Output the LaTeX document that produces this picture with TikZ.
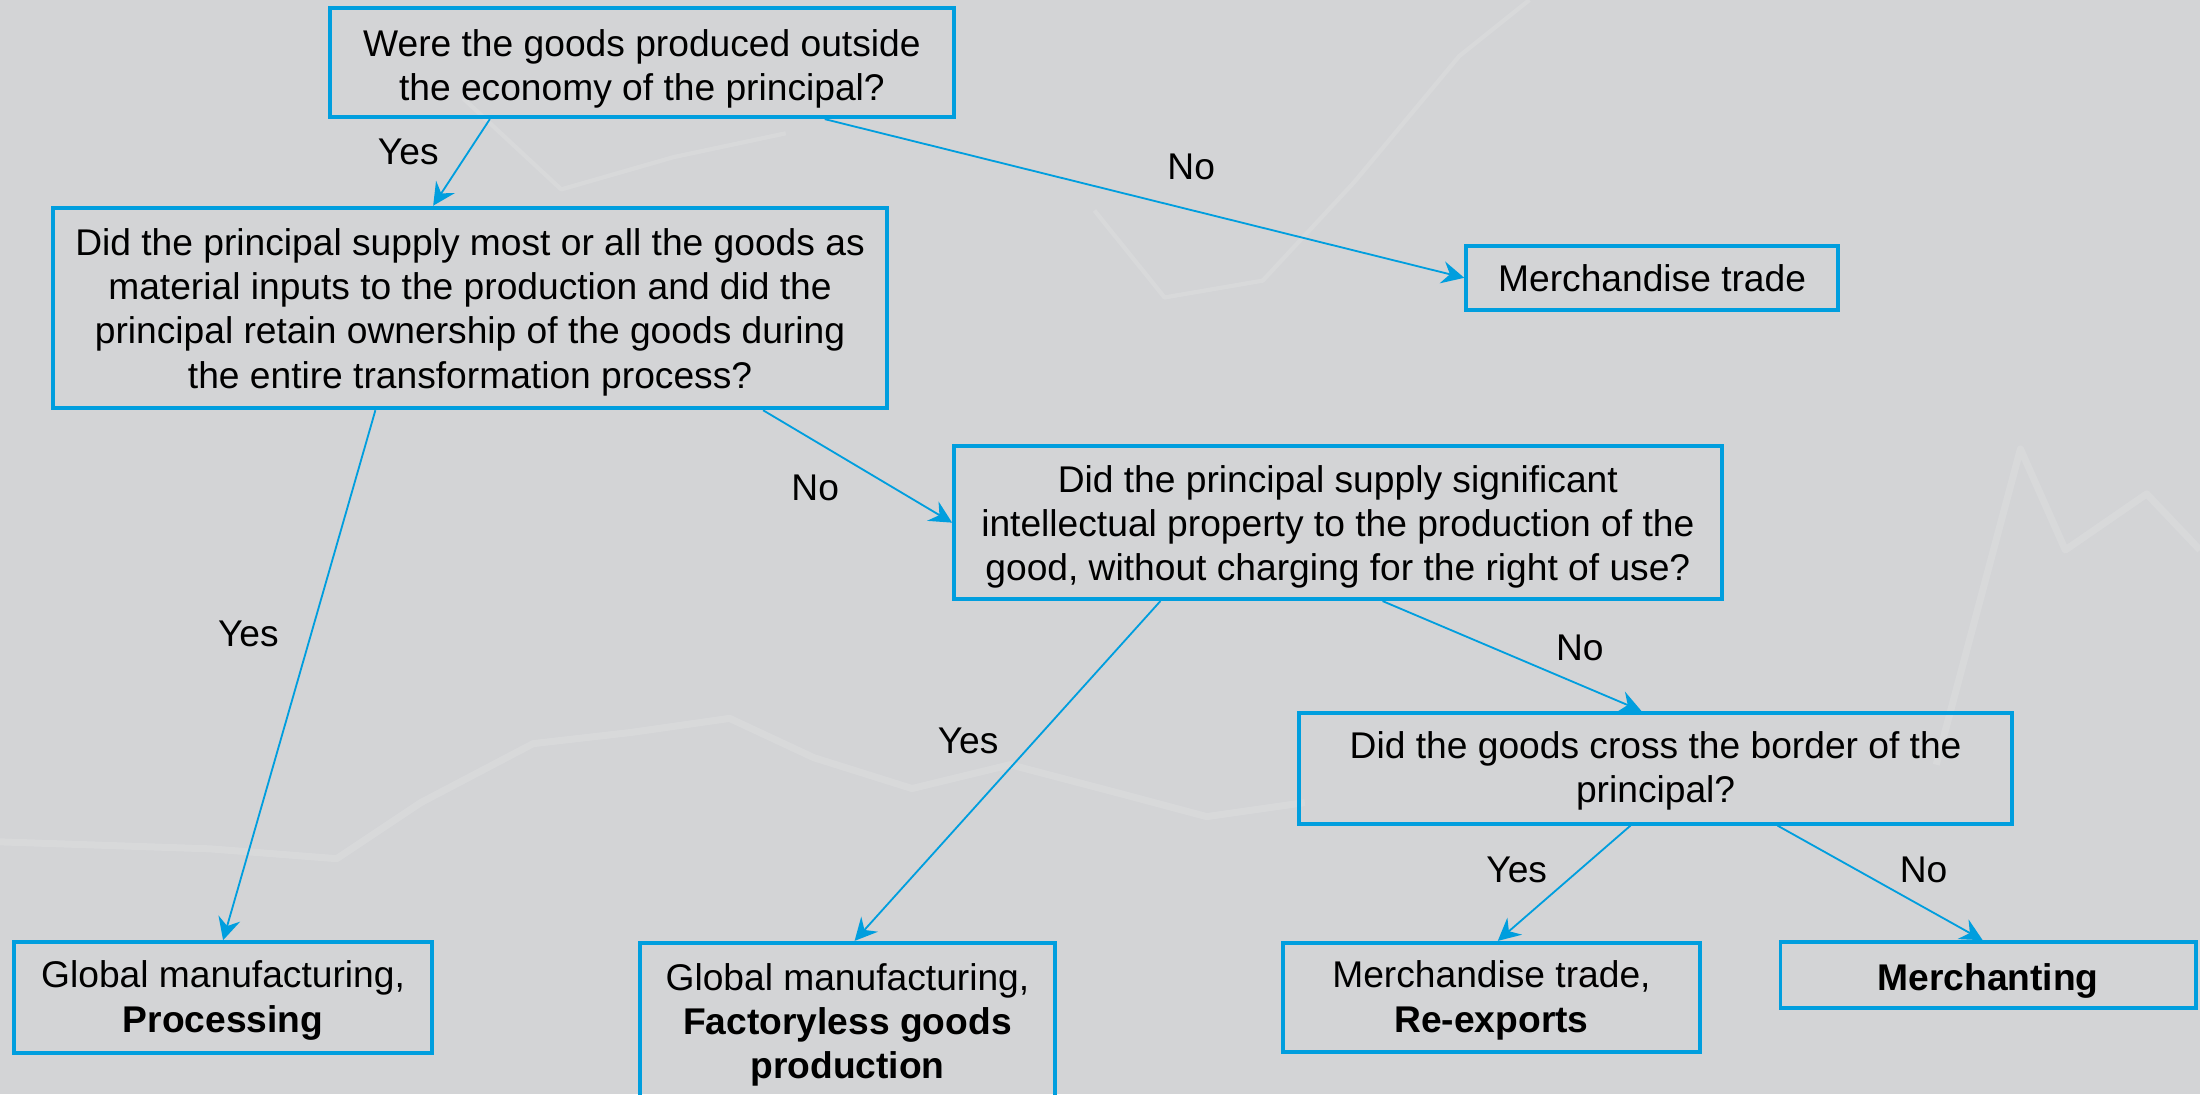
\documentclass[tikz,border=0pt]{standalone}
\usepackage{fontspec}
\setmainfont{Liberation Sans}
\usetikzlibrary{arrows.meta,calc}
\definecolor{mainblue}{RGB}{0,158,222}
\definecolor{bggrey}{RGB}{211,212,214}
\newcommand\mybt[2][3.5pt]{\raisebox{-#1}[\height][\depth]{\begin{tabular}{@{}c@{}}#2\end{tabular}}}
\begin{document}
\begin{tikzpicture}[x=1pt,y=-1pt,
  box/.style={draw=mainblue,line width=2.8pt,inner sep=0pt,
    font=\fontsize{26.5}{31.5}\selectfont,text=black},
  conn/.style={draw=mainblue,line width=1.3pt,-{Stealth[length=16pt,width=16pt,inset=5.5pt]}},
  lbl/.style={font=\fontsize{26.5}{31.5}\selectfont,text=black,inner sep=0pt},
  deco/.style={draw=white,opacity=0.12,line width=5pt,line join=round}]
\useasboundingbox (0,0) rectangle (1568,780);
\fill[bggrey] (0,0) rectangle (1568,780);
% faint background chart lines
\draw[deco] (0,600) -- (150,605) -- (240,612) -- (300,572) -- (380,530) -- (450,522) -- (520,512) -- (580,540) -- (650,562) -- (720,545) -- (800,566) -- (860,582) -- (930,572);
\draw[deco] (1380,545) -- (1440,320) -- (1472,392) -- (1530,352) -- (1568,392);
\draw[deco,line width=3pt] (330,70) -- (400,135) -- (480,112) -- (560,95);
\draw[deco,line width=3pt] (780,150) -- (830,212) -- (900,200) -- (965,130) -- (1040,40) -- (1090,0);
% boxes
\node[box,minimum width=445pt,minimum height=78pt] (A) at (457.5,44.5)
  {\mybt[5pt]{Were the goods produced outside\\the economy of the principal?}};
\node[box,minimum width=594pt,minimum height=143pt] (B) at (335,219.5)
  {\mybt{Did the principal supply most or all the goods as\\material inputs to the production and did the\\principal retain ownership of the goods during\\the entire transformation process?}};
\node[box,minimum width=265pt,minimum height=46pt] (MT) at (1177.5,198)
  {Merchandise trade};
\node[box,minimum width=547pt,minimum height=109pt] (C) at (953.5,372.5)
  {\mybt{Did the principal supply significant\\intellectual property to the production of the\\good, without charging for the right of use?}};
\node[box,minimum width=508pt,minimum height=79pt] (D) at (1180,547.5)
  {\mybt[2.5pt]{Did the goods cross the border of the\\principal?}};
\node[box,minimum width=298pt,minimum height=79pt] (P) at (159,711)
  {\mybt[2.5pt]{Global manufacturing,\\\textbf{Processing}}};
\node[box,minimum width=296pt,minimum height=118pt] (F) at (604,731)
  {\mybt[0pt]{Global manufacturing,\\\textbf{Factoryless goods}\\\textbf{production}}};
\node[box,minimum width=297pt,minimum height=78pt] (R) at (1063,711)
  {\mybt[2.5pt]{Merchandise trade,\\\textbf{Re-exports}}};
\node[box,minimum width=296pt,minimum height=47pt] (M) at (1417,695)
  {\rule{0pt}{28pt}\textbf{Merchanting}};
% connectors
\draw[conn] ($(A.south west)!0.258!(A.south east)$) -- ($(B.north west)!0.456!(B.north east)$);
\draw[conn] ($(A.south west)!0.791!(A.south east)$) -- (MT.west);
\draw[conn] ($(B.south west)!0.387!(B.south east)$) -- (P.north);
\draw[conn] ($(B.south west)!0.85!(B.south east)$) -- (C.west);
\draw[conn] ($(C.south west)!0.27!(C.south east)$) -- ($(F.north west)!0.517!(F.north east)$);
\draw[conn] ($(C.south west)!0.558!(C.south east)$) -- ($(D.north west)!0.48!(D.north east)$);
\draw[conn] ($(D.south west)!0.465!(D.south east)$) -- ($(R.north west)!0.515!(R.north east)$);
\draw[conn] ($(D.south west)!0.67!(D.south east)$) -- ($(M.north west)!0.487!(M.north east)$);
% labels
\node[lbl] (l1) at (291,108) {Yes};
\node[lbl] (l2) at (849,119) {No};
\node[lbl] (l3) at (177,452) {Yes};
\node[lbl] (l4) at (581,348) {No};
\node[lbl] (l5) at (690,528) {Yes};
\node[lbl] (l6) at (1126,462) {No};
\node[lbl] (l7) at (1081,620) {Yes};
\node[lbl] (l8) at (1371,620) {No};
\end{tikzpicture}
\end{document}
